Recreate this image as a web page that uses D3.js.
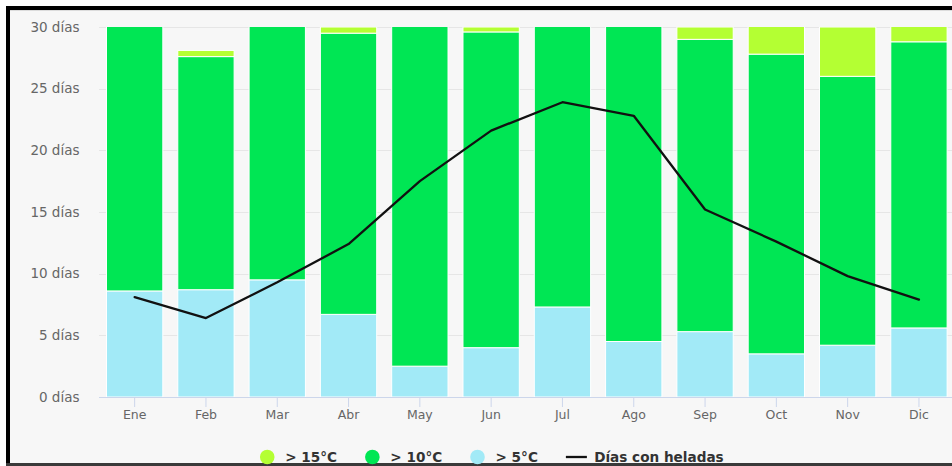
<!DOCTYPE html>
<html>
<head>
<meta charset="utf-8">
<script src="https://cdn.jsdelivr.net/npm/d3@7"></script>
<style>
  html, body { margin: 0; padding: 0; background: #ffffff; }
  svg { display: block; }
  text { font-family: "DejaVu Sans", Verdana, sans-serif; }
</style>
</head>
<body>
<svg id="chart" width="952" height="466"></svg>
<script>
// Monthly day counts by daily temperature band, plus frost days
const months = ["Ene", "Feb", "Mar", "Abr", "May", "Jun", "Jul", "Ago", "Sep", "Oct", "Nov", "Dic"];
const above15 = [0, 0.5, 0, 0.5, 0, 0.4, 0, 0, 1.0, 3.2, 4.0, 2.2];
const above10 = [22.4, 18.9, 21.5, 22.8, 28.5, 25.6, 23.7, 26.5, 23.7, 24.3, 21.8, 23.2];
const above5 = [8.6, 8.7, 9.5, 6.7, 2.5, 4.0, 7.3, 4.5, 5.3, 3.5, 4.2, 5.6];
const frostDays = [8.1, 6.4, 9.3, 12.4, 17.5, 21.6, 23.9, 22.8, 15.2, 12.6, 9.8, 7.9];
const yTicks = [0, 5, 10, 15, 20, 25, 30];

const seriesNames = ["> 15°C", "> 10°C", "> 5°C"];
const colors = { above15: "#b4ff33", above10: "#00e654", above5: "#a2eaf7", frost: "#111111" };

const svg = d3.select("#chart");
const W = 952, H = 466;

// frame
svg.append("rect").attr("x", 0).attr("y", 0).attr("width", W).attr("height", H).attr("fill", "#ffffff");
svg.append("rect").attr("x", 10).attr("y", 10).attr("width", W - 10).attr("height", 453).attr("fill", "#f7f7f7");
svg.append("rect").attr("x", 6).attr("y", 6).attr("width", W - 6).attr("height", 4).attr("fill", "#000");
svg.append("rect").attr("x", 6).attr("y", 6).attr("width", 4).attr("height", H - 6).attr("fill", "#000");
svg.append("line").attr("x1", 10).attr("x2", W).attr("y1", 10.5).attr("y2", 10.5)
  .attr("stroke", "#dcdcdc").attr("stroke-width", 1);
svg.append("rect").attr("x", 6).attr("y", 463).attr("width", W - 6).attr("height", 3).attr("fill", "#3a3a3a");

const plot = { left: 99, right: 954.6, top: 27, bottom: 397 };

const x = d3.scaleBand()
  .domain(months)
  .range([plot.left, plot.right])
  .paddingInner(0.21)
  .paddingOuter(0.105);

const y = d3.scaleLinear().domain([0, 30]).range([plot.bottom, plot.top]);

// gridlines
const grid = svg.append("g");
grid.selectAll("line").data(yTicks.filter(d => d > 0)).join("line")
  .attr("x1", plot.left).attr("x2", W)
  .attr("y1", d => Math.round(y(d)) + 0.5).attr("y2", d => Math.round(y(d)) + 0.5)
  .attr("stroke", "#e6e6e6").attr("stroke-width", 1);

// y axis labels
const yAxis = d3.axisLeft(y).tickValues(yTicks).tickSize(0).tickPadding(0)
  .tickFormat(d => d + " días");
const gy = svg.append("g").attr("transform", "translate(79.5,0)").call(yAxis);
gy.select(".domain").remove();
gy.selectAll("text").attr("fill", "#666666").attr("font-size", "13.5px")
  .attr("font-family", "'DejaVu Sans', Verdana, sans-serif");

// stacked bars
const rows = months.map((m, i) => ({ month: m, above5: above5[i], above10: above10[i], above15: above15[i] }));
const stack = d3.stack().keys(["above5", "above10", "above15"]);
const layers = stack(rows);

svg.append("defs").append("clipPath").attr("id", "plotClip")
  .append("rect").attr("x", plot.left).attr("y", plot.top)
  .attr("width", plot.right - plot.left).attr("height", plot.bottom - plot.top);

const barsG = svg.append("g").attr("clip-path", "url(#plotClip)");
barsG.selectAll("g").data(layers).join("g")
  .attr("fill", d => colors[d.key])
  .selectAll("rect").data(d => d.filter(p => p[1] - p[0] > 0)).join("rect")
  .attr("x", d => x(d.data.month))
  .attr("width", x.bandwidth())
  .attr("y", d => y(d[1]))
  .attr("height", d => y(d[0]) - y(d[1]))
  .attr("stroke", "#ffffff").attr("stroke-width", 1);

// x axis
const xAxis = d3.axisBottom(x).tickSize(10).tickPadding(3).tickSizeOuter(0);
const gx = svg.append("g").attr("transform", `translate(0,${plot.bottom})`).call(xAxis);
gx.select(".domain").attr("stroke", "#ccd6eb").attr("d", `M${plot.left},0.5H${W}`);
gx.selectAll(".tick line").attr("stroke", "#ccd6eb");
gx.selectAll("text").attr("fill", "#666666").attr("font-size", "12.5px")
  .attr("font-family", "'DejaVu Sans', Verdana, sans-serif");

// frost days line
const line = d3.line()
  .x((d, i) => x(months[i]) + x.bandwidth() / 2)
  .y(d => y(d));
svg.append("path").datum(frostDays)
  .attr("d", line)
  .attr("fill", "none")
  .attr("stroke", colors.frost)
  .attr("stroke-width", 2.3)
  .attr("stroke-linejoin", "round")
  .attr("stroke-linecap", "round");

// legend
const legendItems = [
  { label: seriesNames[0], type: "circle", color: colors.above15 },
  { label: seriesNames[1], type: "circle", color: colors.above10 },
  { label: seriesNames[2], type: "circle", color: colors.above5 },
  { label: "Días con heladas", type: "line", color: colors.frost }
];
const legend = svg.append("g");
const legendY = 457;
const items = legend.selectAll("g").data(legendItems).join("g");
items.each(function (d) {
  const g = d3.select(this);
  if (d.type === "circle") {
    g.append("circle").attr("cx", 7.3).attr("cy", 0).attr("r", 7.3).attr("fill", d.color);
  } else {
    g.append("line").attr("x1", 0).attr("x2", 21).attr("y1", 0).attr("y2", 0)
      .attr("stroke", d.color).attr("stroke-width", 2.3);
  }
  g.append("text")
    .attr("x", d.type === "circle" ? 25.3 : 28.3)
    .attr("y", 0).attr("dy", "0.36em")
    .attr("font-size", "13.6px").attr("font-weight", "bold").attr("fill", "#333333")
    .text(d.label);
});
const widths = [];
items.each(function () {
  widths.push(this.getBBox().width);
});
const gap = 28;
const total = d3.sum(widths) + gap * (widths.length - 1);
let cursor = 491.8 - total / 2;
items.attr("transform", (d, i) => {
  const t = `translate(${cursor},${legendY})`;
  cursor += widths[i] + gap;
  return t;
});
</script>
</body>
</html>
